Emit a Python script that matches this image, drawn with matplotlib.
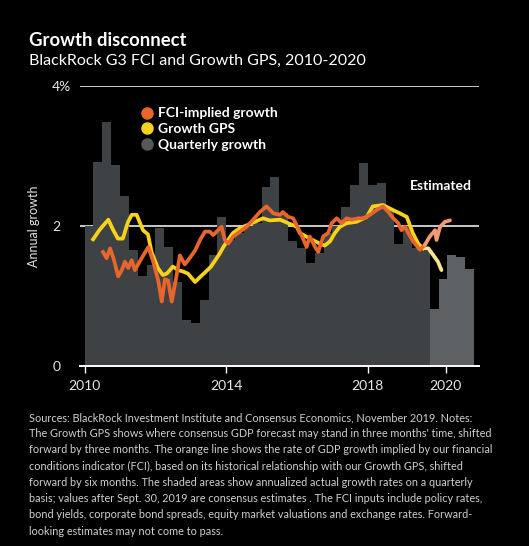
import matplotlib
matplotlib.use("Agg")
import matplotlib.pyplot as plt
from matplotlib.lines import Line2D
import numpy as np
import pandas as pd

# quarterly growth, 2010Q1 .. 2019Q3 actual, 2019Q4 .. 2020Q4 consensus estimates
actual_growth = [2.0, 2.92, 3.49, 2.87, 2.43, 1.66, 1.28, 1.45, 1.97, 1.70,
                 1.2, 0.66, 0.61, 0.94, 1.59, 2.13, 1.8, 1.9, 2.0, 2.05,
                 2.56, 2.7, 2.18, 1.78, 1.68, 1.47, 1.62, 1.9, 2.0, 2.27,
                 2.59, 2.9, 2.59, 2.62, 2.25, 1.74, 2.0, 1.69, 1.64]
estimated_growth = [0.81, 1.25, 1.59, 1.56, 1.38]

# FCI-implied growth (decimal year, %)
fci_x = [2010.52, 2010.62, 2010.72, 2010.81, 2010.95, 2011.05, 2011.14, 2011.23,
         2011.33, 2011.42, 2011.61, 2011.80, 2011.94, 2012.08, 2012.18, 2012.27,
         2012.36, 2012.46, 2012.60, 2012.69, 2012.83, 2012.98, 2013.12, 2013.26,
         2013.40, 2013.54, 2013.63, 2013.77, 2013.87, 2013.96, 2014.06, 2014.20,
         2014.39, 2014.58, 2014.76, 2014.95, 2015.14, 2015.33, 2015.52, 2015.60,
         2015.75, 2015.89, 2016.03, 2016.17, 2016.27, 2016.36, 2016.51, 2016.60,
         2016.74, 2016.88, 2016.98, 2017.12, 2017.26, 2017.40, 2017.54, 2017.73,
         2017.87, 2018.06, 2018.25, 2018.43, 2018.58, 2018.72, 2018.86, 2018.95,
         2019.05, 2019.14, 2019.28, 2019.47, 2019.61]
fci_y = [1.63, 1.54, 1.68, 1.55, 1.28, 1.37, 1.49, 1.40,
         1.51, 1.37, 1.54, 1.70, 1.49, 1.22, 0.92, 1.24,
         1.22, 0.92, 1.30, 1.58, 1.45, 1.55, 1.65, 1.80,
         1.92, 1.92, 1.87, 1.94, 1.99, 1.80, 1.75, 1.85,
         1.92, 1.99, 2.09, 2.20, 2.28, 2.18, 2.16, 2.20,
         2.13, 2.11, 1.97, 1.82, 1.70, 1.85, 1.70, 1.63,
         1.85, 1.90, 2.04, 2.11, 2.04, 2.11, 2.09, 2.11,
         2.11, 2.16, 2.23, 2.28, 2.20, 2.11, 2.04, 1.94,
         1.99, 1.90, 1.78, 1.66, 1.73]
fci_est_x = [2019.61, 2019.75, 2019.90, 2019.94, 2020.04, 2020.18, 2020.32]
fci_est_y = [1.73, 1.85, 1.94, 1.80, 1.99, 2.06, 2.08]

# Growth GPS
gps_x = [2010.24, 2010.43, 2010.67, 2010.80, 2010.94, 2011.08, 2011.22, 2011.33,
         2011.47, 2011.56, 2011.65, 2011.79, 2011.89, 2011.99, 2012.07, 2012.21,
         2012.32, 2012.41, 2012.49, 2012.64, 2012.78, 2012.92, 2013.12, 2013.26,
         2013.45, 2013.57, 2013.73, 2013.82, 2013.92, 2014.01, 2014.19, 2014.39,
         2014.58, 2014.81, 2015.04, 2015.23, 2015.52, 2015.80, 2015.99, 2016.08,
         2016.36, 2016.64, 2016.78, 2016.93, 2017.07, 2017.21, 2017.40, 2017.68,
         2017.97, 2018.14, 2018.43, 2018.62, 2018.91, 2019.10, 2019.27, 2019.42,
         2019.56]
gps_y = [1.81, 1.95, 2.09, 1.95, 1.82, 1.82, 2.05, 2.16,
         2.16, 2.05, 1.94, 1.88, 1.63, 1.50, 1.40, 1.30,
         1.32, 1.37, 1.42, 1.37, 1.35, 1.32, 1.20, 1.27,
         1.36, 1.42, 1.54, 1.61, 1.70, 1.77, 1.90, 1.97,
         2.01, 2.06, 2.11, 2.08, 2.09, 2.03, 1.99, 1.90,
         1.82, 1.75, 1.72, 1.78, 1.90, 1.99, 2.04, 2.06,
         2.13, 2.28, 2.30, 2.25, 2.18, 2.13, 1.90, 1.75,
         1.68]
gps_est_x = [2019.56, 2019.71, 2019.84, 2019.98, 2020.08]
gps_est_y = [1.68, 1.68, 1.59, 1.49, 1.37]

tick_pos = [2010, 2014, 2018, 2020.2]
tick_labels = ["2010", "2014", "2018", "2020"]

quarters = pd.period_range("2010Q1", "2020Q4", freq="Q")
qx = np.array([q.year + (q.quarter - 1) / 4 for q in quarters])
n_act = len(actual_growth)

ORANGE = "#e8652c"
YELLOW = "#f9d21c"
PALE_OR = "#f29a73"
PALE_YE = "#f8e48e"
BAR = "#3f4244"
BAR_EST = "#5d6163"

fig = plt.figure(figsize=(5.29, 5.46), dpi=100, facecolor="black")
ax = fig.add_axes([80 / 529, 1 - 366 / 546, 399 / 529, 280 / 546])
ax.set_facecolor("black")

for v in [2, 4]:
    ax.axhline(v, color="white", lw=1.1, zorder=1)

ax.bar(qx[:n_act], actual_growth, width=0.25, align="edge", color=BAR, zorder=2)
ax.bar(qx[n_act:], estimated_growth, width=0.25, align="edge", color=BAR_EST, zorder=2)

ax.plot(gps_x, gps_y, color=YELLOW, lw=2.7, zorder=3, solid_joinstyle="round")
ax.plot(gps_est_x, gps_est_y, color=PALE_YE, lw=2.7, zorder=3, solid_capstyle="round")
ax.plot(fci_x, fci_y, color=ORANGE, lw=2.7, zorder=4, solid_joinstyle="round")
ax.plot(fci_est_x, fci_est_y, color=PALE_OR, lw=2.7, zorder=4, solid_capstyle="round")

ax.set_xlim(2009.87, 2021.14)
ax.set_ylim(0, 4)
for s in ["top", "right", "left"]:
    ax.spines[s].set_visible(False)
ax.spines["bottom"].set_color("white")
ax.spines["bottom"].set_linewidth(1.4)

ax.set_xticks(tick_pos)
ax.set_xticklabels(tick_labels)
ax.tick_params(axis="x", colors="white", length=5, width=1, pad=5, labelsize=10)
ax.set_yticks([0, 2, 4])
ax.set_yticklabels(["0", "2", "4%"])
ax.tick_params(axis="y", length=0, pad=20, labelsize=10, colors="white")
for lab in ax.get_yticklabels():
    lab.set_horizontalalignment("left")
for lab in ax.get_xticklabels() + ax.get_yticklabels():
    lab.set_fontfamily("Lato")
    lab.set_color("#e6e6e6")

ax.set_ylabel("Annual growth", color="#e6e6e6", fontsize=9, fontfamily="Lato", labelpad=9)

handles = [
    Line2D([], [], marker="o", ls="", color=ORANGE, markersize=8),
    Line2D([], [], marker="o", ls="", color=YELLOW, markersize=8),
    Line2D([], [], marker="o", ls="", color="#55595b", markersize=8),
]
leg = ax.legend(handles, ["FCI-implied growth", "Growth GPS", "Quarterly growth"],
                loc="upper left", bbox_to_anchor=(0.12, 0.968), frameon=False,
                handletextpad=0.25, labelspacing=0.26, handlelength=1.0,
                prop={"family": "Lato", "weight": "bold", "size": 10})
for t in leg.get_texts():
    t.set_color("white")

ax.text(2020.95, 2.57, "Estimated", color="white", fontsize=10, fontweight="bold",
        fontfamily="Lato", ha="right", va="center")

fig.text(29 / 529, 1 - 41 / 546, "Growth disconnect", color="white", fontsize=13.3,
         fontweight="bold", fontfamily="Lato", va="center")
fig.text(29 / 529, 1 - 61 / 546, "BlackRock G3 FCI and Growth GPS, 2010-2020",
         color="white", fontsize=11.5, fontfamily="Lato", va="center")

note = ("Sources: BlackRock Investment Institute and Consensus Economics, November 2019. Notes:\n"
        "The Growth GPS shows where consensus GDP forecast may stand in three months' time, shifted\n"
        "forward by three months. The orange line shows the rate of GDP growth implied by our financial\n"
        "conditions indicator (FCI), based on its historical relationship with our Growth GPS, shifted\n"
        "forward by six months. The shaded areas show annualized actual growth rates on a quarterly\n"
        "basis; values after Sept. 30, 2019 are consensus estimates . The FCI inputs include policy rates,\n"
        "bond yields, corporate bond spreads, equity market valuations and exchange rates. Forward-\n"
        "looking estimates may not come to pass.")
fig.text(29 / 529, 1 - 412 / 546, note, color="#cfcfcf", fontsize=7.8,
         fontfamily="Lato", va="top", linespacing=1.58)

fig.savefig("out.png", dpi=100, facecolor="black")
